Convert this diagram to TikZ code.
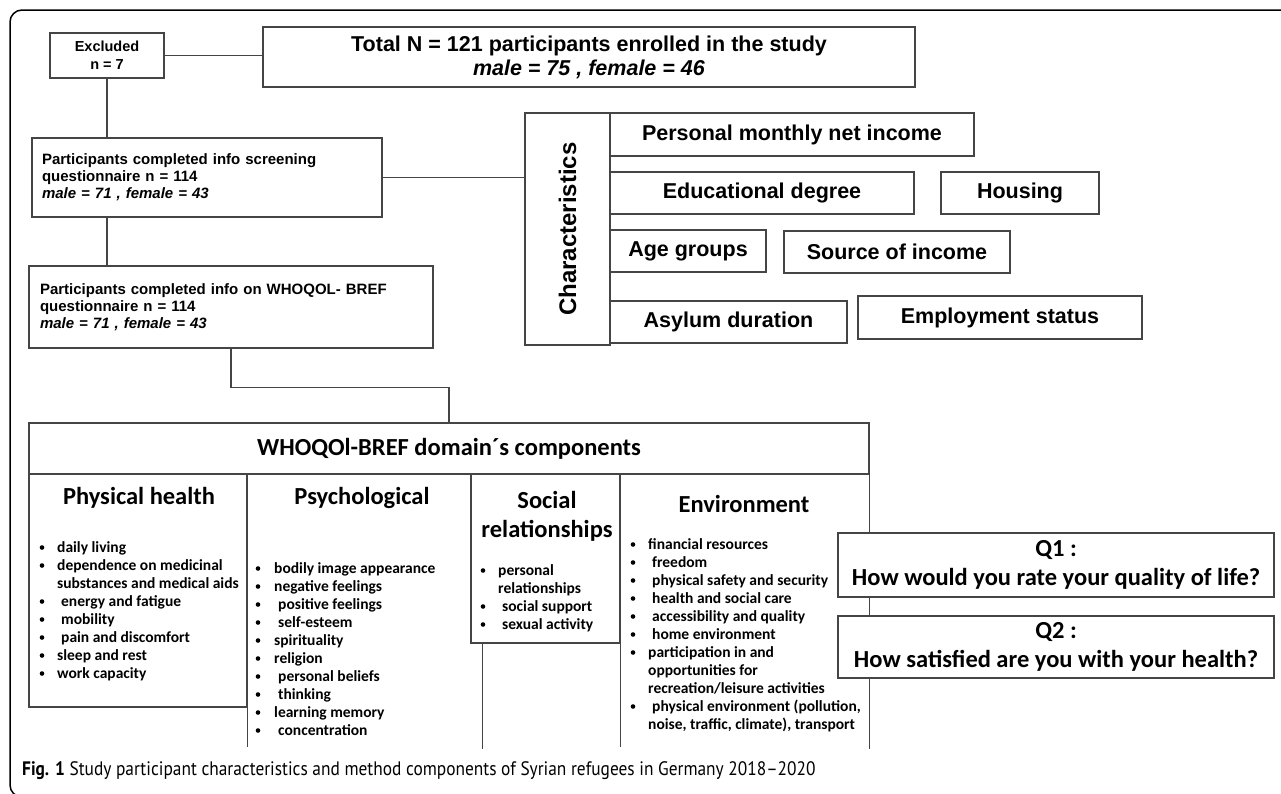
\documentclass[tikz,border=0pt]{standalone}
\usepackage{fontspec}
\usepackage{graphicx}
\setmainfont{Liberation Sans}
\newfontfamily\calib{Carlito}
\newfontfamily\capfont[FakeStretch=0.89]{PT Sans}
\usetikzlibrary{calc}
\definecolor{linegray}{HTML}{454545}

\tikzset{
  box/.style={draw=linegray, line width=1.4pt, fill=white, inner sep=0pt},
  conn/.style={draw=linegray, line width=1.4pt},
  smalltxt/.style={font=\bfseries\fontsize{15}{17}\selectfont},
  chartxt/.style={font=\bfseries\fontsize{21.5}{24}\selectfont},
  comptitle/.style={font=\calib\bfseries\fontsize{24.5}{29}\selectfont, inner sep=0pt},
  itemtxt/.style={font=\calib\bfseries\fontsize{15.5}{18}\selectfont, inner sep=0pt},
  dot/.style={circle, fill=black, inner sep=0pt, minimum size=4.6pt},
  qtxt/.style={font=\calib\bfseries\fontsize{24.5}{29}\selectfont}
}

% name, bullet x, text x, first baseline, kind/text entries (0 = no bullet, 2 = indented)
\newcommand\domainlist[5]{%
  \foreach \itemkind/\itemtext [count=\i] in {#5} {
    \node[itemtxt, anchor=base west] (#1-\i) at ({#3+4*(\itemkind==2)}, {#4+18*(\i-1)}) {\itemtext};
    \ifnum\itemkind>0 \node[dot] (#1b-\i) at (#2, {#4-4.5+18*(\i-1)}) {};\fi
  }}

\begin{document}
\begin{tikzpicture}[x=1pt, y=-1pt]
  \useasboundingbox (0,0) rectangle (1281,793);
  \begin{scope}
    \clip (0,0) rectangle (1281,793);
    \draw[black, line width=1.5pt, rounded corners=12pt] (10,10) rectangle (1300,797);
  \end{scope}

  % flow of participants
  \node[box, align=center, font=\bfseries\fontsize{14.5}{18}\selectfont, minimum width=114pt, minimum height=45pt] (excl) at (107,55.5) {Excluded\\n = 7};
  \node[box, align=center, font=\bfseries\fontsize{21.5}{24}\selectfont, minimum width=652pt, minimum height=60pt] (total) at (589,57) {Total N = 121 participants enrolled in the study\\\textit{male = 75 , female = 46}};
  \node[box, smalltxt, align=left, text width=330pt, inner xsep=10pt, minimum height=79pt] (screen) at (207,177.5) {Participants completed  info screening\\questionnaire  n = 114\\\textit{male = 71 , female = 43}};
  \node[box, smalltxt, align=left, text width=382pt, inner xsep=11pt, minimum height=82pt] (whoq) at (231,307) {Participants completed info on WHOQOL- BREF\\questionnaire n = 114\\\textit{male = 71 , female = 43}};

  \draw[conn] (excl.east) -- (excl.east -| total.west);
  \draw[conn] (excl.south) -- (excl.south |- screen.north);
  \draw[conn] (excl.south |- screen.south) -- (excl.south |- whoq.north);

  % characteristics
  \node[box, font=\bfseries\fontsize{24}{24}\selectfont, minimum width=85pt, minimum height=232pt] (chars) at (567.5,229) {\rotatebox{90}{Characteristics}};
  \node[box, chartxt, minimum width=364pt, minimum height=43pt] (income) at (792,134.5) {Personal monthly net income};
  \node[box, chartxt, minimum width=304pt, minimum height=42pt] (edu) at (762,193) {Educational degree};
  \node[box, chartxt, minimum width=158pt, minimum height=42pt] (housing) at (1020,193) {Housing};
  \node[box, chartxt, minimum width=156pt, minimum height=42pt] (age) at (688,251) {Age groups};
  \node[box, chartxt, minimum width=226pt, minimum height=42pt] (source) at (897,252) {Source of income};
  \node[box, chartxt, minimum width=237pt, minimum height=42pt] (asylum) at (728.5,322) {Asylum duration};
  \node[box, chartxt, minimum width=284pt, minimum height=43pt] (employ) at (1000,317.5) {Employment status};
  \draw[conn] (screen.east) -- (screen.east -| chars.west);

  % WHOQOL-BREF domains
  \node[box, font=\calib\bfseries\fontsize{24.5}{24}\selectfont, minimum width=840pt, minimum height=51pt] (header) at (449,448.5) {WHOQOl-BREF domain´s components};
  \draw[conn] (whoq.south) -- ++(0,39) -| (header.north);
  \node[box, minimum width=218pt, minimum height=233pt] (phys) at (138,590.5) {};
  \node[box, minimum width=149pt, minimum height=169pt] (social) at (545.5,558.5) {};
  \draw[conn] (phys.north east) -- ++(0,274);
  \draw[conn] ($(social.south west)+(12,0)$) -- ++(0,105);
  \draw[conn] (social.north east) -- ++(0,274);
  \draw[conn] (header.south east) -- ++(0,274);

  \node[comptitle, anchor=base] (physT) at (139,504) {Physical health};
  \node[comptitle, anchor=base] (psychT) at (362,504) {Psychological};
  \node[comptitle, anchor=base] (socialT) at (547,508) {Social};
  \node[comptitle, anchor=base] (socialT2) at (547,537) {relationships};
  \node[comptitle, anchor=base] (envT) at (744,512) {Environment};

  \domainlist{phys}{42}{57}{552}{1/daily living, 1/dependence on medicinal, 0/substances and medical aids,
    2/energy and fatigue, 2/mobility, 2/pain and discomfort, 1/sleep and rest, 1/work capacity}
  \domainlist{psych}{258}{274}{573}{1/bodily image  appearance, 1/negative feelings, 2/positive feelings,
    2/self-esteem, 1/spirituality, 1/religion, 2/personal beliefs, 2/thinking, 1/learning memory, 2/concentration}
  \domainlist{soc}{483}{498}{575}{1/personal, 0/relationships, 2/social support, 2/sexual activity}
  \domainlist{env}{633}{648}{549}{1/financial resources, 2/freedom, 2/physical safety and security,
    2/health and social care, 2/accessibility and quality, 2/home environment, 1/participation in and,
    0/opportunities for, 0/{recreation/leisure activities}, 2/{physical environment (pollution,},
    0/{noise, traffic, climate), transport}}

  % single questions
  \node[box, qtxt, align=center, minimum width=436pt, minimum height=64pt] (q1) at (1056,565) {Q1 :\\How would you rate your quality of life?};
  \node[box, qtxt, align=center, minimum width=436pt, minimum height=62pt] (q2) at (1056,647) {Q2 :\\How satisfied are you with your health?};

  \node[anchor=base west, inner sep=0pt, font=\capfont\fontsize{19.5}{20}\selectfont] (caption) at (22,775) {\textbf{Fig. 1} Study participant characteristics and method components of Syrian refugees in Germany 2018–2020};
\end{tikzpicture}
\end{document}
